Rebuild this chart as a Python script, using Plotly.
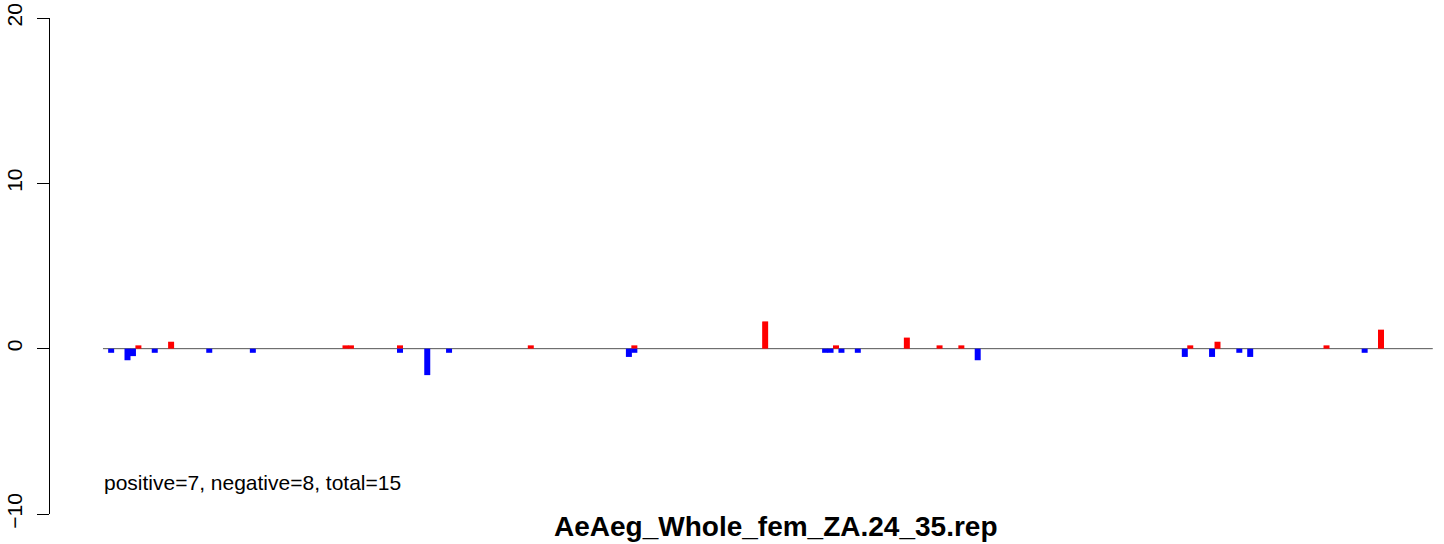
import plotly.graph_objects as go

# bin index positions and values
pos_bins = [6, 12, 44, 45, 54, 78, 97, 121, 134, 147, 153, 157, 199, 204, 224, 234]
pos_vals = [0.2, 0.42, 0.2, 0.2, 0.2, 0.2, 0.2, 1.65, 0.2, 0.67, 0.2, 0.2, 0.2, 0.42, 0.2, 1.15]

neg_bins = [1, 4, 5, 9, 19, 27, 54, 59, 63, 96, 97, 132, 133, 135, 138, 160, 198, 203, 208, 210, 231]
neg_vals = [-0.25, -0.7, -0.45, -0.25, -0.25, -0.25, -0.25, -1.6, -0.25, -0.5, -0.25, -0.25, -0.25,
            -0.25, -0.25, -0.7, -0.5, -0.5, -0.25, -0.5, -0.25]

n_bins = 244
y_ticks = [-10, 0, 10, 20]
y_tick_labels = ["\u221210", "0", "10", "20"]
title_text = "AeAeg_Whole_fem_ZA.24_35.rep"
summary_text = "positive=7, negative=8, total=15"

FONT = "Liberation Sans, Arial, Helvetica"

fig = go.Figure()
fig.add_trace(go.Bar(x=pos_bins, y=pos_vals, width=1.1, marker=dict(color="#FF0000", line=dict(width=0)),
                     showlegend=False, hoverinfo="skip"))
fig.add_trace(go.Bar(x=neg_bins, y=neg_vals, width=1.1, marker=dict(color="#0000FF", line=dict(width=0)),
                     showlegend=False, hoverinfo="skip"))

fig.add_shape(type="line", x0=-0.5, x1=n_bins - 0.5, y0=0, y1=0, xref="x", yref="y",
              line=dict(color="#555555", width=1), layer="below")

fig.add_annotation(x=-0.6, y=-8.08, xref="x", yref="y", text=summary_text, showarrow=False,
                   xanchor="left", yanchor="middle", font=dict(family=FONT, size=21, color="black"))
fig.add_annotation(x=0.5253, y=0, xref="paper", yref="paper", yshift=5,
                   text="<b>" + title_text + "</b>",
                   showarrow=False, xanchor="center", yanchor="top",
                   font=dict(family=FONT, size=28, color="black"))

fig.update_layout(
    width=1444, height=544,
    margin=dict(l=50, r=11, t=18, b=30, autoexpand=False),
    plot_bgcolor="white", paper_bgcolor="white",
    barmode="overlay",
    xaxis=dict(range=[-10.22, 243.54], showgrid=False, zeroline=False, showticklabels=False, ticks="",
               showline=False, automargin=False),
    yaxis=dict(range=[-10, 20], tickvals=y_ticks, ticktext=y_tick_labels, showgrid=False,
               zeroline=False, showline=True, linecolor="black", linewidth=1, ticks="outside", ticklen=12,
               tickcolor="black", tickangle=-90, automargin=False, ticklabelstandoff=7,
               tickfont=dict(family=FONT, size=21, color="black")),
)

fig.write_html("out.html", config={"displayModeBar": False},
               post_script="document.body.style.margin='0';document.body.style.overflow='hidden';")
